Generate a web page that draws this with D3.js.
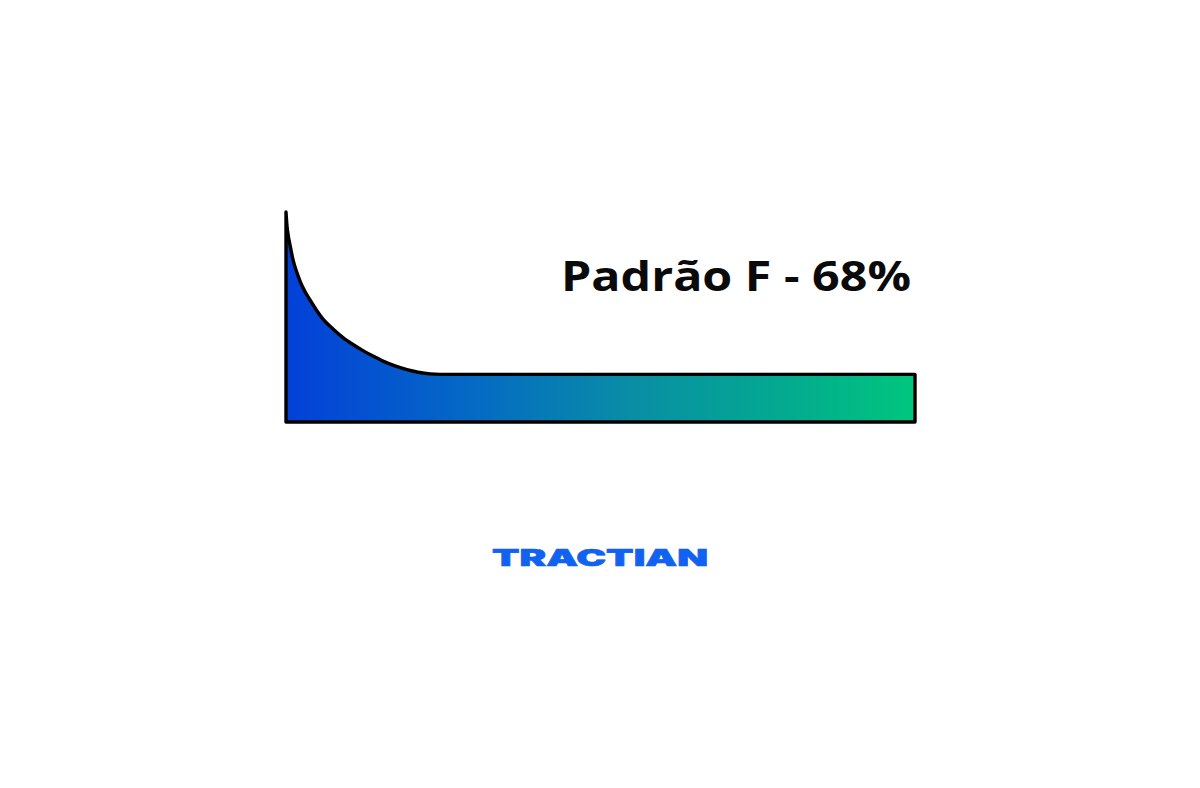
<!DOCTYPE html>
<html>
<head>
<meta charset="utf-8">
<script src="https://cdn.jsdelivr.net/npm/d3@7"></script>
<style>
  html, body { margin: 0; padding: 0; background: #fff; }
  svg { display: block; }
</style>
</head>
<body>
<div id="chart"></div>
<script>
// failure-rate curve, pattern F (time % vs conditional probability %)
const timePct = [0, 0.16, 0.37, 0.64, 1.16, 1.75, 2.23, 3.02, 3.82, 4.77, 5.88, 7.47, 9.06,
  10.65, 12.24, 13.83, 15.42, 17.33, 19.24, 20.99, 22.89, 24.48, 100];
const ratePct = [100, 93.3, 88.6, 84.3, 76.7, 71.0, 67.1, 62.1, 58.1, 53.6, 49.0, 44.3, 40.2,
  36.9, 34.0, 31.4, 29.0, 26.7, 24.9, 23.7, 22.9, 22.7, 22.7];
const title = 'Padrão F - 68%';
const brand = 'TRACTIAN';

const W = 1200, H = 788;
const svg = d3.select('#chart').append('svg')
  .attr('width', W)
  .attr('height', H);

const x = d3.scaleLinear().domain([0, 100]).range([286, 915]);
const y = d3.scaleLinear().domain([0, 100]).range([422, 212]);

const pts = timePct.map((t, i) => ({ t, r: ratePct[i] }));

// gradient blue -> green
const grad = svg.append('defs').append('linearGradient')
  .attr('id', 'fillGrad')
  .attr('gradientUnits', 'userSpaceOnUse')
  .attr('x1', x(0)).attr('x2', x(100))
  .attr('y1', 0).attr('y2', 0);
[[0, '#0340d9'], [0.3, '#056ac4'], [0.55, '#098ea5'], [0.8, '#03ab8f'], [1, '#00c67e']]
  .forEach(([o, c]) => grad.append('stop').attr('offset', o).attr('stop-color', c));

const area = d3.area()
  .x(d => x(d.t))
  .y0(y(0))
  .y1(d => y(d.r))
  .curve(d3.curveMonotoneX);

svg.append('path')
  .datum(pts)
  .attr('d', area)
  .attr('fill', 'url(#fillGrad)')
  .attr('stroke', '#000')
  .attr('stroke-width', 3.4)
  .attr('stroke-linejoin', 'round')
  .attr('stroke-linecap', 'round');

svg.append('text')
  .attr('x', 911)
  .attr('y', 291)
  .attr('text-anchor', 'end')
  .attr('font-family', '"Open Sans", sans-serif')
  .attr('font-weight', 700)
  .attr('font-size', 41)
  .attr('textLength', 350)
  .attr('lengthAdjust', 'spacingAndGlyphs')
  .attr('fill', '#0a0a0a')
  .text(title);

svg.append('text')
  .attr('x', 492)
  .attr('y', 565.5)
  .attr('font-family', 'Inter, "Open Sans", sans-serif')
  .attr('font-weight', 900)
  .attr('font-size', 23)
  .attr('textLength', 216)
  .attr('lengthAdjust', 'spacingAndGlyphs')
  .attr('fill', '#1262f2')
  .attr('stroke', '#1262f2')
  .attr('stroke-width', 0.6)
  .text(brand);
</script>
</body>
</html>
